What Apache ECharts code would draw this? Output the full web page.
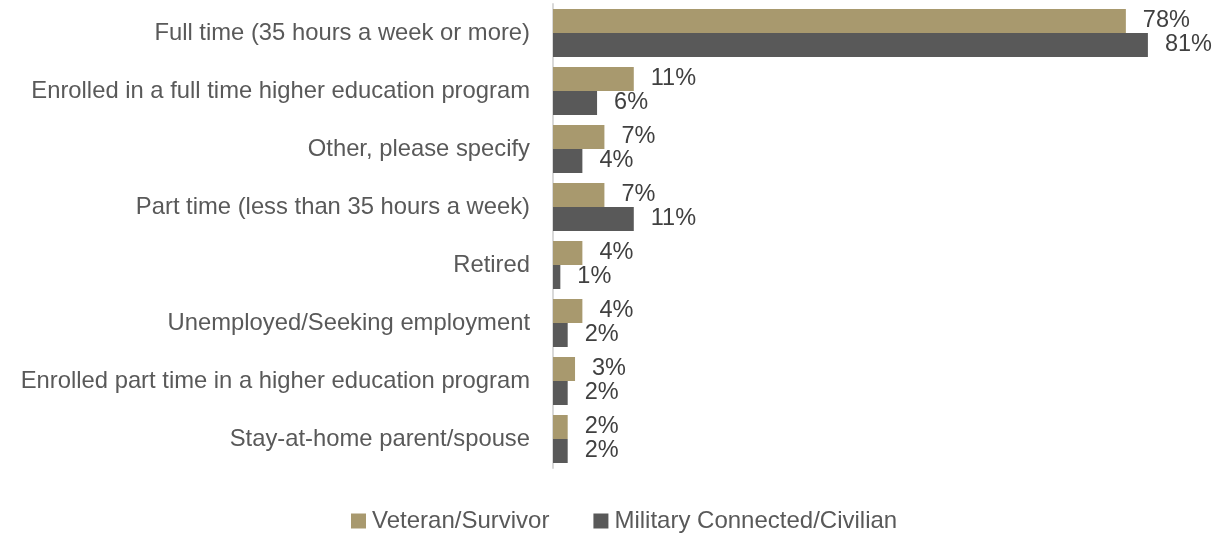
<!DOCTYPE html>
<html>
<head>
<meta charset="utf-8">
<script src="https://cdn.jsdelivr.net/npm/echarts@6/dist/echarts.min.js"></script>
<style>
  html, body { margin: 0; padding: 0; background: #ffffff; }
  #chart { width: 1222px; height: 533px; }
</style>
</head>
<body>
<div id="chart"></div>
<script>
// Employment status by respondent group (percent)
const categories = [
  'Full time (35 hours a week or more)',
  'Enrolled in a full time higher education program',
  'Other, please specify',
  'Part time (less than 35 hours a week)',
  'Retired',
  'Unemployed/Seeking employment',
  'Enrolled part time in a higher education program',
  'Stay-at-home parent/spouse'
];
const veteranSurvivor = [78, 11, 7, 7, 4, 4, 3, 2];
const militaryCivilian = [81, 6, 4, 11, 1, 2, 2, 2];
const seriesNames = ['Veteran/Survivor', 'Military Connected/Civilian'];

const FONT = '"Liberation Sans", Arial, Helvetica, sans-serif';

const chart = echarts.init(document.getElementById('chart'));

const valueLabel = {
  show: true,
  position: 'right',
  distance: 17,
  formatter: p => p.value + '%',
  fontFamily: FONT,
  fontSize: 23.5,
  color: '#404040'
};

chart.setOption({
  animation: false,
  grid: { left: 553, right: 8, top: 4, bottom: 65, containLabel: false },
  legend: {
    data: seriesNames,
    left: 351,
    top: 509,
    padding: 0,
    itemWidth: 15,
    itemHeight: 15,
    itemGap: 44,
    icon: 'rect',
    textStyle: { fontFamily: FONT, fontSize: 24, color: '#595959', padding: [0, 0, 0, 1] }
  },
  xAxis: {
    type: 'value',
    min: 0,
    max: 90,
    show: false
  },
  yAxis: {
    type: 'category',
    data: categories,
    inverse: true,
    axisLine: { show: true, lineStyle: { color: '#d9d9d9', width: 2 } },
    axisTick: { show: false },
    axisLabel: {
      margin: 23,
      fontFamily: FONT,
      fontSize: 23.8,
      color: '#595959'
    }
  },
  series: [
    {
      name: seriesNames[0],
      type: 'bar',
      data: veteranSurvivor,
      barWidth: 24,
      barGap: '0%',
      itemStyle: { color: '#a8996e' },
      label: valueLabel
    },
    {
      name: seriesNames[1],
      type: 'bar',
      data: militaryCivilian,
      barWidth: 24,
      barGap: '0%',
      itemStyle: { color: '#595959' },
      label: valueLabel
    }
  ]
});
</script>
</body>
</html>
